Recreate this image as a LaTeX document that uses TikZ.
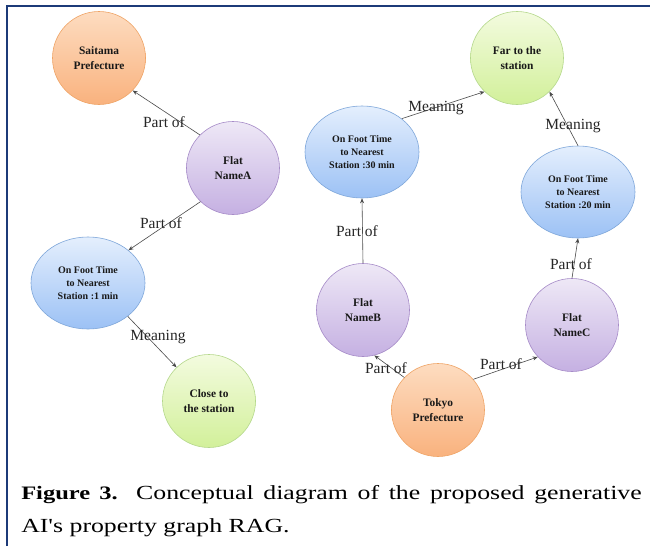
\documentclass[tikz,border=0pt]{standalone}
\usepackage{fontspec}
\setmainfont{Liberation Serif}
\newfontfamily\rawserif{Liberation Serif}
\usetikzlibrary{shapes.geometric,arrows.meta}
\definecolor{navy}{HTML}{1C3A78}
\definecolor{orT}{HTML}{FDDCC0}\definecolor{orB}{HTML}{F9B27E}\definecolor{orD}{HTML}{EFA466}
\definecolor{puT}{HTML}{EEE8F6}\definecolor{puB}{HTML}{C5B0E2}\definecolor{puD}{HTML}{A68BC8}
\definecolor{blT}{HTML}{E4EFFD}\definecolor{blB}{HTML}{9CC1F5}\definecolor{blD}{HTML}{7FA7DA}
\definecolor{grT}{HTML}{F3FBDF}\definecolor{grB}{HTML}{D2F09A}\definecolor{grD}{HTML}{B5D88C}
\definecolor{edgecol}{HTML}{4A4A4A}
\tikzset{
  circ/.style={circle, minimum size=93pt, inner sep=0pt, line width=0.6pt, align=center,
    text=black!90, font=\fontsize{11.4}{14.3}\selectfont\bfseries},
  ell/.style={ellipse, minimum width=114pt, minimum height=92pt, inner sep=0pt, line width=0.6pt,
    align=center, text=black!90, font=\fontsize{10}{12.7}\selectfont\bfseries},
  orangen/.style={draw=orD, top color=orT, bottom color=orB},
  purplen/.style={draw=puD, top color=puT, bottom color=puB},
  bluen/.style={draw=blD, top color=blT, bottom color=blB},
  greenn/.style={draw=grD, top color=grT, bottom color=grB},
  edge/.style={draw=edgecol, line width=0.6pt, -{Stealth[length=5pt,width=4pt]}},
  lbl/.style={inner sep=0pt, text=black!85, font=\fontsize{15.5}{17}\selectfont}
}
\begin{document}
\begin{tikzpicture}[x=1pt,y=-1pt]
\useasboundingbox (0,0) rectangle (650,546);
\fill[white] (0,0) rectangle (650,546);
\draw[navy, line width=2.4pt] (7,546) -- (7,6) -- (650,6);

% nodes
\node[circ, orangen] (sait) at (99,58) {Saitama\\Prefecture};
\node[circ, purplen] (A) at (233,168) {Flat\\NameA};
\node[ell, bluen] (m1) at (88,283) {On Foot Time\\to Nearest\\Station :1 min};
\node[circ, greenn] (close) at (209,401) {Close to\\the station};
\node[circ, greenn] (far) at (517,58) {Far to the\\station};
\node[ell, bluen] (m30) at (362,152) {On Foot Time\\to Nearest\\Station :30 min};
\node[ell, bluen] (m20) at (578,192) {On Foot Time\\to Nearest\\Station :20 min};
\node[circ, purplen] (B) at (363,310) {Flat\\NameB};
\node[circ, purplen] (C) at (572,325) {Flat\\NameC};
\node[circ, orangen] (tok) at (438,410) {Tokyo\\Prefecture};

% connectors
\draw[edge] (A.135) -- (sait.316);
\draw[edge] (A.226) -- (m1.39);
\draw[edge] (m1.320) -- (close.134);
\draw[edge] (m30.40) -- (far.226);
\draw[edge] (m20.north) -- (far.314);
\draw[edge] (B.north) -- (m30.south);
\draw[edge] (C.north) -- (m20.south);
\draw[edge] (tok.136) -- (B.284);
\draw[edge] (tok.41) -- (C.223);

% labels
\node[lbl] (l1) at (164,122) {Part of};
\node[lbl] (l2) at (161,223) {Part of};
\node[lbl] (l3) at (158,337) {Meaning};
\node[lbl] (l4) at (436,108) {Meaning};
\node[lbl] (l5) at (573,126) {Meaning};
\node[lbl] (l6) at (357,231) {Part of};
\node[lbl] (l7) at (571,264) {Part of};
\node[lbl] (l8) at (386,368) {Part of};
\node[lbl] (l9) at (501,364) {Part of};

% caption
\node[anchor=north west, inner sep=0pt, xscale=1.29, transform shape, text width=481pt,
  align=justify, font=\fontsize{20}{33}\selectfont] (cap) at (21,485)
  {{\fontsize{19}{33}\selectfont\textbf{Figure 3.}} Conceptual diagram of the proposed generative\linebreak AI{\rawserif'}s property graph RAG.};
\end{tikzpicture}
\end{document}
